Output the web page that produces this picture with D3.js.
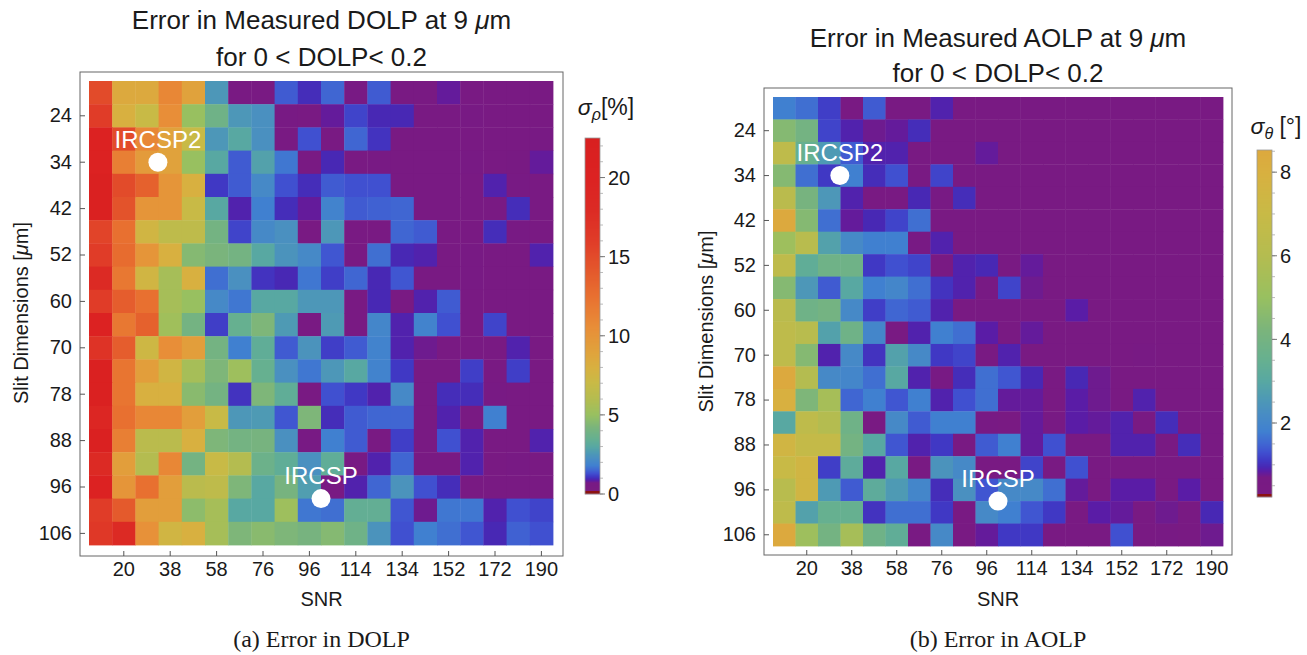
<!DOCTYPE html>
<html lang='en'>
<head>
  <meta charset='UTF-8'>
  <title>Error in DOLP and AOLP</title>
  <style>
  body { margin: 0; background: #fff; }
  text { font-family: 'Liberation Sans', Arial, sans-serif; fill: #1a1a1a; }
  .axis .tick text { font-size: 20px; }
  .axis .tick line { stroke: #555; }
  .title { font-size: 26px; }
  .label { font-size: 20px; }
  .marker { font-size: 24px; fill: #fff; }
  .caption { font-family: 'Liberation Serif', 'DejaVu Serif', serif; font-size: 24px; }
  .cbtick { font-size: 20px; }
  </style>
  <script src='https://d3js.org/d3.v7.min.js'></script>
</head>
<body>
  <script>

  // tick labels (every second cell)
  var snrTicks = [20, 38, 58, 76, 96, 114, 134, 152, 172, 190];
  var slitTicks = [24, 34, 42, 52, 60, 70, 78, 88, 96, 106];

  // error in DOLP, sigma_rho [%], rows top->bottom, columns left->right
  var dolpErr = [
    [15, 8.5, 8.5, 11, 9, 2.5, 0.5, 0.5, 1.4, 1.0, 1.5, 0.7, 1.4, 0.5, 0.5, 0.8, 0.5, 0.5, 0.5, 0.5],
    [16, 8, 7, 10.5, 5, 3.8, 2.5, 2.3, 0.7, 0.5, 0.8, 1.2, 0.95, 0.95, 0.5, 0.5, 0.6, 0.5, 0.5, 0.5],
    [20, 15, 11, 9, 7, 2.5, 3, 2.3, 0.5, 1.3, 0.5, 1.5, 1.05, 0.5, 0.5, 0.5, 0.5, 0.5, 0.5, 0.6],
    [20, 11.5, 9.5, 9, 5, 3, 1.4, 2.8, 1.7, 0.5, 0.95, 0.5, 0.65, 0.5, 0.5, 0.5, 0.65, 0.5, 0.55, 0.8],
    [21, 15, 13.5, 10, 8, 1.1, 1.4, 2.1, 1.3, 1.0, 1.4, 1.3, 1.3, 0.5, 0.5, 0.5, 0.5, 0.9, 0.65, 0.5],
    [21, 14.5, 10, 10, 7, 3, 0.9, 1.8, 1.0, 0.8, 1.9, 1.4, 1.45, 1.5, 0.5, 0.5, 0.5, 0.5, 1.0, 0.5],
    [15.5, 12.5, 7.5, 6.5, 6.5, 4, 1.2, 2.1, 2.3, 0.5, 2.5, 0.5, 0.5, 1.5, 1.4, 0.5, 0.5, 1.0, 0.65, 0.5],
    [16, 12.8, 10, 8, 4.5, 4.2, 4, 3, 2.4, 2.1, 1.35, 0.5, 1.6, 0.95, 0.9, 0.5, 0.65, 0.5, 0.5, 0.9],
    [18, 12, 7.5, 5.5, 8, 1.6, 2.3, 1.05, 0.95, 1.7, 1.15, 1.5, 0.95, 1.35, 0.5, 0.5, 0.7, 0.5, 0.5, 0.5],
    [16, 13.8, 12.5, 5.5, 5, 2.1, 1.7, 3, 3, 2.5, 2.5, 0.5, 0.95, 0.5, 0.9, 1.4, 0.5, 0.5, 0.5, 0.5],
    [20, 12, 13.5, 5.3, 4, 1.15, 3.5, 4.3, 2.6, 0.5, 2.6, 0.5, 2.0, 0.9, 1.9, 1.3, 0.5, 1.2, 0.5, 0.5],
    [17, 13.8, 7.3, 10.5, 9.3, 4, 1.8, 3.3, 1.4, 2.4, 1.15, 1.4, 1.9, 0.9, 0.75, 0.5, 0.5, 0.5, 0.9, 0.5],
    [21, 12.2, 9.3, 7.5, 5.5, 4.3, 5.2, 3.5, 2.3, 1.7, 2.5, 3, 1.9, 1.1, 0.5, 0.5, 1.15, 0.5, 1.15, 0.5],
    [21, 12.2, 8, 8, 4.6, 4, 1.05, 4.3, 3.3, 0.5, 1.3, 1.1, 0.9, 2.1, 0.5, 1.0, 1.0, 0.7, 0.5, 0.5],
    [19, 12.5, 11, 11, 9.3, 7, 2.5, 2.6, 1.35, 4.3, 1.0, 1.4, 1.5, 1.5, 0.5, 0.9, 0.5, 1.8, 0.5, 0.5],
    [21, 11.5, 6.3, 6.3, 8, 4.3, 4, 4.1, 2.3, 0.65, 1.8, 1.4, 0.5, 1.15, 0.5, 1.3, 0.9, 0.5, 0.5, 0.9],
    [18, 9.3, 6, 11, 4, 7, 6, 3.7, 3.3, 2.3, 3.3, 0.7, 0.9, 1.5, 0.5, 0.5, 0.9, 0.5, 0.65, 0.5],
    [20, 10, 12.5, 9.3, 6.3, 6.5, 4.3, 3, 4.1, 2.7, 0.5, 0.9, 1.5, 2.4, 1.3, 1.0, 0.5, 0.5, 0.5, 0.5],
    [16, 14, 9.3, 9.3, 4.7, 5.5, 3, 3, 5.2, 1.7, 1.6, 3.4, 3.4, 1.35, 0.75, 1.7, 1.7, 0.9, 1.3, 1.2],
    [16.5, 18, 10.3, 7.5, 8, 5.5, 4.3, 4.6, 4.3, 4.1, 4.5, 3.8, 2.4, 1.3, 1.8, 1.6, 1.35, 0.95, 1.45, 1.3]
  ];

  // error in AOLP, sigma_theta [deg]
  var aolpErr = [
    [1.8, 1.6, 1.15, 0.5, 1.4, 0.5, 0.5, 0.9, 0.5, 0.5, 0.5, 0.5, 0.5, 0.5, 0.5, 0.5, 0.5, 0.5, 0.5, 0.5],
    [4.5, 4.0, 1.2, 0.9, 0.75, 0.8, 1.0, 0.5, 0.5, 0.5, 0.5, 0.5, 0.5, 0.5, 0.5, 0.5, 0.5, 0.5, 0.5, 0.5],
    [6.5, 3.5, 2.6, 1.4, 0.9, 0.9, 0.5, 0.5, 0.5, 0.8, 0.5, 0.5, 0.5, 0.5, 0.5, 0.5, 0.5, 0.5, 0.5, 0.5],
    [4.5, 1.6, 1.1, 1.8, 1.0, 1.3, 0.5, 1.2, 0.5, 0.5, 0.5, 0.5, 0.5, 0.5, 0.5, 0.5, 0.5, 0.5, 0.5, 0.5],
    [6.3, 4.1, 2.5, 0.9, 0.5, 0.5, 0.95, 0.65, 1.0, 0.5, 0.5, 0.5, 0.5, 0.5, 0.5, 0.5, 0.5, 0.5, 0.5, 0.5],
    [8.5, 4.5, 1.6, 0.8, 0.95, 1.2, 1.6, 0.5, 0.5, 0.5, 0.5, 0.5, 0.5, 0.5, 0.5, 0.5, 0.5, 0.5, 0.5, 0.5],
    [5.2, 6.2, 2.8, 2.1, 1.8, 1.8, 0.7, 0.9, 0.5, 0.5, 0.5, 0.5, 0.5, 0.5, 0.5, 0.5, 0.5, 0.5, 0.5, 0.5],
    [6.5, 3.3, 3.8, 3.8, 1.1, 1.3, 1.2, 0.5, 0.9, 0.95, 0.5, 0.8, 0.5, 0.5, 0.5, 0.5, 0.5, 0.5, 0.5, 0.5],
    [4.5, 2.5, 1.4, 3, 1.8, 2.0, 1.6, 1.05, 0.9, 0.7, 1.2, 0.75, 0.5, 0.5, 0.5, 0.5, 0.5, 0.5, 0.5, 0.5],
    [6.3, 3.8, 4.0, 2.1, 1.15, 1.5, 1.4, 0.9, 0.5, 0.5, 0.5, 0.5, 0.5, 0.85, 0.5, 0.5, 0.5, 0.5, 0.5, 0.5],
    [6.5, 6.2, 2.8, 3.8, 2.0, 0.5, 0.9, 1.8, 1.6, 0.85, 0.5, 0.8, 0.5, 0.5, 0.5, 0.5, 0.5, 0.5, 0.5, 0.5],
    [6.5, 4.5, 0.9, 2.1, 1.05, 2.8, 2.1, 1.1, 1.2, 0.5, 0.9, 0.5, 0.5, 0.5, 0.5, 0.5, 0.6, 0.5, 0.5, 0.5],
    [8.5, 6, 2.1, 2.0, 1.6, 3, 0.9, 0.65, 1.0, 1.6, 1.35, 0.95, 0.5, 0.95, 0.75, 0.5, 0.5, 0.5, 0.5, 0.5],
    [8, 4.3, 5.5, 1.5, 1.8, 1.35, 1.8, 0.9, 1.3, 1.6, 0.8, 0.8, 0.5, 0.85, 0.75, 0.5, 0.9, 0.5, 0.5, 0.5],
    [3, 6.5, 6, 3.8, 0.5, 2.1, 1.4, 1.8, 1.8, 0.7, 0.5, 0.8, 0.65, 0.85, 0.8, 0.9, 0.5, 1.0, 0.5, 0.5],
    [7.5, 6.8, 6.8, 4.0, 3, 1.35, 0.9, 1.1, 0.5, 1.4, 1.8, 0.8, 1.3, 0.5, 0.5, 0.9, 0.9, 0.5, 1.0, 0.5],
    [7, 7.5, 1.15, 3.2, 0.9, 3, 0.5, 2.4, 2.1, 0.5, 0.5, 1.2, 0.5, 1.3, 0.5, 0.5, 0.5, 0.5, 0.5, 0.5],
    [6.2, 7.5, 2.6, 1.4, 3.2, 2.6, 2.0, 1.0, 2.3, 1.35, 2.1, 2.1, 1.6, 0.8, 0.5, 0.85, 0.85, 0.5, 0.85, 0.5],
    [6.5, 2.8, 3.5, 3.5, 1.05, 1.6, 1.6, 1.1, 0.5, 2.1, 1.8, 1.35, 1.1, 0.5, 0.85, 0.8, 0.5, 0.75, 0.5, 0.95],
    [8.5, 5.2, 4.0, 5.5, 3.8, 3.3, 0.5, 2.1, 0.5, 0.8, 1.1, 1.1, 0.5, 0.5, 0.5, 1.3, 0.5, 0.7, 0.5, 0.75]
  ];

  // instrument markers, in grid cell units (col, row)
  var markerNames = ['IRCSP2', 'IRCSP'];
  var markerCol = [2.97, 10];
  var markerRow = [3.5, 18];

  var dolpBarTicks = [0, 5, 10, 15, 20];
  var aolpBarTicks = [2, 4, 6, 8];

  // colour function shared by both plots
  var stopValues = [0, 0.7, 0.85, 0.95, 1.1, 1.3, 1.5, 1.8, 2.2, 2.6, 3.0, 3.5, 4.2, 5.0, 6.0, 7.0, 8.0, 9.0, 10.5, 12.5, 14, 16, 18, 20, 22.5];
  var stopColours = ['#7a1b81', '#781a84', '#5a1ca6', '#4828b4', '#4038c4', '#4050d0', '#4066d2', '#4080d0', '#488cc4',
    '#4e9ab4', '#58a8a2', '#66b090', '#7ab47c', '#98c060', '#b4bc50', '#c8ba46', '#d8b040', '#e0a23c', '#e88e38',
    '#e87030', '#e45a2c', '#e03c28', '#dc2a24', '#dc2222', '#d82020'];

  var colour = d3.scaleLinear().domain(stopValues).range(stopColours).clamp(true);

  var svg = d3.select('body').append('svg').attr('width', 1307).attr('height', 655);

  var oddIdx = d3.range(1, 20, 2);

  function drawPanel(p) {
    var g = svg.append('g');

    var x = d3.scaleBand().domain(d3.range(20)).range([p.cells[0], p.cells[2]]);
    var y = d3.scaleBand().domain(d3.range(20)).range([p.cells[1], p.cells[3]]);
    var gx = d3.scaleLinear().domain([0, 20]).range([p.cells[0], p.cells[2]]);
    var gy = d3.scaleLinear().domain([0, 20]).range([p.cells[1], p.cells[3]]);

    // frame
    g.append('rect')
      .attr('x', p.frame[0]).attr('y', p.frame[1])
      .attr('width', p.frame[2] - p.frame[0]).attr('height', p.frame[3] - p.frame[1])
      .attr('fill', 'none').attr('stroke', '#666').attr('stroke-width', 1);

    // cells
    var cells = [];
    p.grid.forEach(function (row, r) {
      row.forEach(function (v, c) { cells.push({ r: r, c: c, v: v }); });
    });

    g.append('g').selectAll('rect')
      .data(cells)
      .enter()
      .append('rect')
      .attr('x', function (d) { return x(d.c); })
      .attr('y', function (d) { return y(d.r); })
      .attr('width', x.bandwidth() + 0.4)
      .attr('height', y.bandwidth() + 0.4)
      .attr('fill', function (d) { return colour(d.v); });

    // axes, ticks point inward
    g.append('g')
      .attr('class', 'axis')
      .attr('transform', 'translate(0,' + p.frame[3] + ')')
      .call(d3.axisBottom(x).tickValues(oddIdx).tickFormat(function (d, i) { return snrTicks[i]; }).tickSize(-5).tickPadding(6))
      .call(function (a) { a.select('.domain').remove(); });

    g.append('g')
      .attr('class', 'axis')
      .attr('transform', 'translate(' + p.frame[0] + ',0)')
      .call(d3.axisLeft(y).tickValues(oddIdx).tickFormat(function (d, i) { return slitTicks[i]; }).tickSize(-5).tickPadding(8))
      .call(function (a) { a.select('.domain').remove(); });

    // markers
    markerNames.forEach(function (name, i) {
      var cx = gx(markerCol[i]);
      var cy = gy(markerRow[i]);
      g.append('circle').attr('cx', cx).attr('cy', cy).attr('r', 9.5).attr('fill', '#fff');
      g.append('text').attr('class', 'marker').attr('x', cx).attr('y', cy - 14.5)
        .attr('text-anchor', 'middle').text(name);
    });

    // titles
    var cxMid = (p.frame[0] + p.frame[2]) / 2;
    var t1 = g.append('text').attr('class', 'title').attr('x', cxMid).attr('y', p.titleY[0]).attr('text-anchor', 'middle');
    t1.append('tspan').text(p.title + ' ');
    t1.append('tspan').attr('font-style', 'italic').text('\u03bc');
    t1.append('tspan').text('m');
    g.append('text').attr('class', 'title').attr('x', cxMid).attr('y', p.titleY[1]).attr('text-anchor', 'middle')
      .text('for 0 < DOLP< 0.2');

    // axis labels
    g.append('text').attr('class', 'label').attr('x', cxMid).attr('y', 606).attr('text-anchor', 'middle').text('SNR');

    var yl = g.append('text').attr('class', 'label').attr('text-anchor', 'middle')
      .attr('transform', 'translate(' + p.ylabelX + ',' + ((p.cells[1] + p.cells[3]) / 2) + ') rotate(-90)');
    yl.append('tspan').text('Slit Dimensions [');
    yl.append('tspan').attr('font-style', 'italic').text('\u03bc');
    yl.append('tspan').text('m]');

    // caption
    g.append('text').attr('class', 'caption').attr('x', cxMid).attr('y', 647).attr('text-anchor', 'middle').text(p.caption);

    // colour bar
    var cb = p.bar;
    var cy = d3.scaleLinear().domain(cb.domain).range([cb.bottom, cb.top]);
    var slices = d3.range(cb.top, cb.bottom, 1);
    g.append('g').selectAll('rect')
      .data(slices)
      .enter()
      .append('rect')
      .attr('x', cb.x).attr('y', function (d) { return d; })
      .attr('width', 15).attr('height', 1.2)
      .attr('fill', function (d) { return colour(cy.invert(d + 0.5)); });
    g.append('rect').attr('x', cb.x).attr('y', cb.bottom - 3).attr('width', 15).attr('height', 3).attr('fill', '#8c1212');
    g.append('rect').attr('x', cb.x).attr('y', cb.top).attr('width', 15).attr('height', cb.bottom - cb.top)
      .attr('fill', 'none').attr('stroke', '#999').attr('stroke-width', 0.8);

    var minor = d3.range(Math.ceil(cb.domain[0] / cb.minor) * cb.minor, cb.domain[1], cb.minor);
    g.append('g').selectAll('line')
      .data(minor)
      .enter()
      .append('line')
      .attr('x1', cb.x + 15).attr('x2', cb.x + 18)
      .attr('y1', function (d) { return cy(d); }).attr('y2', function (d) { return cy(d); })
      .attr('stroke', '#aaa').attr('stroke-width', 0.8);
    g.append('g').selectAll('line')
      .data(cb.ticks)
      .enter()
      .append('line')
      .attr('x1', cb.x + 15).attr('x2', cb.x + 20)
      .attr('y1', function (d) { return cy(d); }).attr('y2', function (d) { return cy(d); })
      .attr('stroke', '#777').attr('stroke-width', 1);
    g.append('g').selectAll('text')
      .data(cb.ticks)
      .enter()
      .append('text')
      .attr('class', 'cbtick')
      .attr('x', cb.x + 23).attr('y', function (d) { return cy(d); })
      .attr('dy', '0.36em')
      .text(function (d) { return d; });

    var ct = g.append('text').attr('x', cb.titleX).attr('y', cb.titleY).attr('text-anchor', 'middle')
      .style('font-size', '23px');
    ct.append('tspan').attr('font-style', 'italic').text('\u03c3');
    ct.append('tspan').attr('font-style', 'italic').style('font-size', '16px').attr('dy', 5).text(cb.sub);
    ct.append('tspan').attr('dy', -5).text(cb.unit);
  }

  drawPanel({
    grid: dolpErr,
    frame: [80, 72, 563, 556],
    cells: [89, 81, 553, 545],
    title: 'Error in Measured DOLP at 9',
    titleY: [29, 66],
    ylabelX: 28,
    caption: '(a) Error in DOLP',
    bar: { x: 585, top: 138, bottom: 494, domain: [0, 22.5], ticks: dolpBarTicks, minor: 1,
           sub: '\u03c1', unit: '[%]', titleX: 606, titleY: 115 }
  });

  drawPanel({
    grid: aolpErr,
    frame: [764, 88, 1232, 555],
    cells: [773, 97, 1223, 546],
    title: 'Error in Measured AOLP at 9',
    titleY: [47, 82],
    ylabelX: 713,
    caption: '(b) Error in AOLP',
    bar: { x: 1257, top: 150, bottom: 497, domain: [0.23, 8.53], ticks: aolpBarTicks, minor: 0.5,
           sub: '\u03b8', unit: ' [\u00b0]', titleX: 1276, titleY: 134 }
  });
  </script>
</body>
</html>
